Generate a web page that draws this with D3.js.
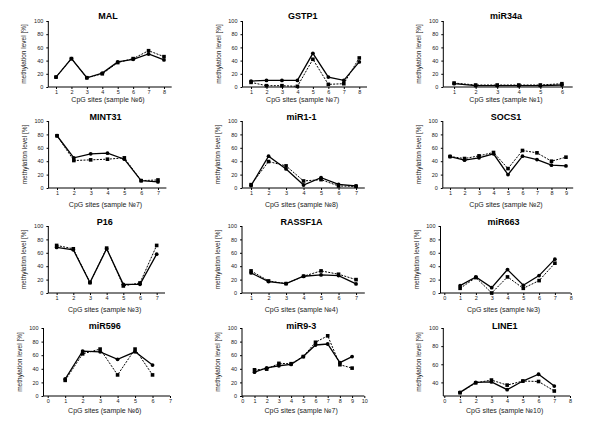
<!DOCTYPE html>
<html><head><meta charset="utf-8">
<script src="https://cdn.jsdelivr.net/npm/d3@7"></script>
<style>body{margin:0;background:#fff}svg{display:block}</style>
</head><body>
<svg id="c" width="600" height="431"></svg>
<script>
// ---- data ----
const titles = ["MAL","GSTP1","miR34a","MINT31","miR1-1","SOCS1","P16","RASSF1A","miR663","miR596","miR9-3","LINE1"];
const xLabels = ["CpG sites (sample №6)","CpG sites (sample №7)","CpG sites (sample №1)",
  "CpG sites (sample №7)","CpG sites (sample №8)","CpG sites (sample №2)",
  "CpG sites (sample №3)","CpG sites (sample №4)","CpG sites (sample №3)",
  "CpG sites (sample №6)","CpG sites (sample №7)","CpG sites (sample №10)"];
const yLabel = "methylation level [%]";
const yTicksStd = [0,20,40,60,80,100];
const yTicksLine1 = [40,60,80,100];

const malSolid   = [15,43,14,21,38,42,50,41];
const malDashed  = [15,43,14,20,37,43,55,46];
const gstp1Solid = [9,10,10,10,51,15,10,38];
const gstp1Dashed= [7,2,2,1,42,4,5,44];
const mir34aSolid= [5,2,2,2,2,3];
const mir34aDashed=[6,3,3,3,3,5];
const mint31Solid= [78,45,51,52,43,11,9];
const mint31Dashed=[78,41,42,43,45,11,12];
const mir11Solid = [3.5,47.5,28.5,4.5,15.5,5.5,3];
const mir11Dashed= [5,39.5,33,10.5,12.5,3,2.5];
const socs1Solid = [47,41.5,45,51,20,47.5,42.5,34,33];
const socs1Dashed= [47,44,48,53,29,56,52.5,40,46];
const p16Solid   = [68,64.5,15.5,66,13,13,58];
const p16Dashed  = [71,66,15.5,67,10.5,15,71];
const rassfSolid = [30,17,14,25,27,26,13.5];
const rassfDashed= [33,18,14,25,33,28,20];
const mir663Solid= [11,24,8,35,11.5,26,50.5];
const mir663Dashed=[7,23,0,24,7,18.5,44.5];
const mir596Solid= [25,66,65,54,65,45.5];
const mir596Dashed=[23,62,69,31,69,31];
const mir93Solid = [35,41.5,44.5,46.5,58,75,76.5,49,58];
const mir93Dashed= [38.5,39.5,48,47.5,58,79,88.5,46,41];
const line1Solid = [29,40,40.5,32,41.5,49,36];
const line1Dashed= [28.6,39.5,42.6,37,41.5,41,30.5];

const solidSeries  = [malSolid,gstp1Solid,mir34aSolid,mint31Solid,mir11Solid,socs1Solid,p16Solid,rassfSolid,mir663Solid,mir596Solid,mir93Solid,line1Solid];
const dashedSeries = [malDashed,gstp1Dashed,mir34aDashed,mint31Dashed,mir11Dashed,socs1Dashed,p16Dashed,rassfDashed,mir663Dashed,mir596Dashed,mir93Dashed,line1Dashed];
const zeroMax = [null,null,null,null,null,null,null,null,8,7,10,8];

const xTicks1to = n => d3.range(1, n + 1);
const xTicks0to = n => d3.range(0, n + 1);

// ---- layout (pixel geometry only) ----
const rows = [
  {yb: 87, yt: 21, tY: 19, lY: 101.5},
  {yb: 188, yt: 121, tY: 120, lY: 206.8},
  {yb: 293, yt: 226, tY: 225, lY: 311.5},
  {yb: 396, yt: 328, tY: 329, lY: 412.5}
];
const panelsGeom = [
  {x0: 48.3, x1: 171.7, zero: false, axisX: 48.3},
  {x0: 243.3, x1: 367, zero: false, axisX: 242.5},
  {x0: 443.3, x1: 572.7, zero: false, axisX: 443.3},
  {x0: 48.6, x1: 166.4, zero: false, axisX: 48.6},
  {x0: 242.3, x1: 364.8, zero: false, axisX: 242.3},
  {x0: 442.8, x1: 573.2, zero: false, axisX: 442.8},
  {x0: 48.3, x1: 165, zero: false, axisX: 48.3},
  {x0: 242.3, x1: 364.8, zero: false, axisX: 242},
  {x0: 444.3, x1: 570.7, zero: true, axisX: 440.5},
  {x0: 47.7, x1: 170, zero: true, axisX: 43.5},
  {x0: 242.3, x1: 364.3, zero: true, axisX: 242},
  {x0: 444.3, x1: 570, zero: true, axisX: 443.3}
];

const svg = d3.select("#c");
const font = "'Liberation Sans', Arial, sans-serif";

titles.forEach((title, i) => {
  const r = rows[Math.floor(i / 3)];
  const g = panelsGeom[i];
  const solid = solidSeries[i], dashed = dashedSeries[i];
  const n = solid.length;
  const xDomain = g.zero ? [0, zeroMax[i]] : [0.5, n + 0.5];
  const xTicks = g.zero ? xTicks0to(zeroMax[i]) : xTicks1to(n);
  const yDomain = i === 11 ? [25, 100] : [0, 100];
  const yTicks = i === 11 ? yTicksLine1 : yTicksStd;
  const x = d3.scaleLinear().domain(xDomain).range([g.x0, g.x1]);
  const y = d3.scaleLinear().domain(yDomain).range([r.yb, r.yt]);
  const p = svg.append("g");
  const fmt = d3.format("d");

  const ya = p.append("g").attr("transform", `translate(${g.axisX},0)`)
    .call(d3.axisLeft(y).tickValues(yTicks).tickFormat(fmt).tickSize(2).tickPadding(3));
  const xa = p.append("g").attr("transform", `translate(0,${r.yb})`)
    .call(d3.axisBottom(x).tickValues(xTicks).tickFormat(fmt).tickSize(2).tickPadding(1.5).tickSizeOuter(0));
  xa.select(".domain").attr("d", `M${g.axisX},0H${g.x1}`);
  ya.select(".domain").attr("d", `M0,${r.yb}V${r.yt}`);
  [ya, xa].forEach(a => {
    a.selectAll("path,line").attr("stroke", "#000").attr("stroke-width", 1);
    a.selectAll("text").attr("font-family", font).attr("font-size", 5.5).attr("fill", "#222");
  });

  const line = d3.line().x((d, k) => x(k + 1)).y(d => y(d));
  p.append("path").datum(dashed).attr("d", line).attr("fill", "none")
    .attr("stroke", "#000").attr("stroke-width", 1).attr("stroke-dasharray", "2,1.3");
  p.append("path").datum(solid).attr("d", line).attr("fill", "none")
    .attr("stroke", "#000").attr("stroke-width", 1.3);
  p.selectAll(".sq").data(dashed).enter().append("rect")
    .attr("x", (d, k) => x(k + 1) - 1.8).attr("y", d => y(d) - 1.8)
    .attr("width", 3.6).attr("height", 3.6).attr("fill", "#000");
  p.selectAll(".ci").data(solid).enter().append("circle")
    .attr("cx", (d, k) => x(k + 1)).attr("cy", d => y(d)).attr("r", 1.9).attr("fill", "#000");

  p.append("text").attr("x", (g.axisX + g.x1) / 2 - 2).attr("y", r.tY)
    .attr("text-anchor", "middle").attr("font-family", font).attr("font-weight", "bold")
    .attr("font-size", 9).text(title);
  p.append("text").attr("x", (g.axisX + g.x1) / 2 - 2).attr("y", r.lY)
    .attr("text-anchor", "middle").attr("font-family", font)
    .attr("font-size", 7).attr("fill", "#222").text(xLabels[i]);
  p.append("text").attr("transform", `translate(${g.axisX - 22},${(r.yb + r.yt) / 2}) rotate(-90)`)
    .attr("text-anchor", "middle").attr("font-family", font)
    .attr("font-size", 6.5).attr("fill", "#222").text(yLabel);
});
</script>
</body></html>
